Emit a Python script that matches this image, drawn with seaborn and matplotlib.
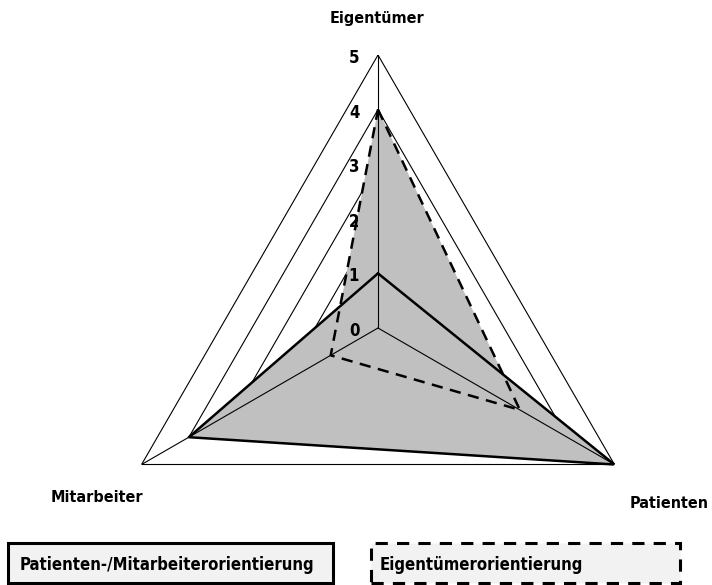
import numpy as np
import matplotlib
matplotlib.use("Agg")
import matplotlib.pyplot as plt
import matplotlib.transforms as mtransforms
from matplotlib.patches import Rectangle
import seaborn as sns

# Radar chart: orientation of the organisation
categories = ["Eigentümer", "Patienten", "Mitarbeiter"]
patienten_mitarbeiter = [1, 5, 4]
eigentuemer = [4, 3, 1]
series_names = ["Patienten-/Mitarbeiterorientierung", "Eigentümerorientierung"]
ticks = [0, 1, 2, 3, 4, 5]

sns.set_style("white")
plt.rcParams["font.family"] = ["DejaVu Sans"]
plt.rcParams["font.stretch"] = "condensed"
plt.rcParams["text.color"] = "black"

W, H = 712, 585
fig = plt.figure(figsize=(W / 100, H / 100), dpi=100)

# polar axes placed so that center is at (378, 328) px and radius 273 px
cx, cy, rad = 378, 328, 273
ax = fig.add_axes([(cx - rad) / W, (H - cy - rad) / H, 2 * rad / W, 2 * rad / H],
                  projection="polar")
ax.set_theta_zero_location("N")
ax.set_theta_direction(-1)
ax.set_ylim(0, ticks[-1])
ax.grid(False)
ax.spines["polar"].set_visible(False)
ax.set_xticks([])
ax.set_yticks([])
ax.patch.set_alpha(0)

angles = np.arange(len(categories)) * 2 * np.pi / len(categories)
closed = np.append(angles, angles[0])


def close(v):
    return list(v) + [v[0]]


# triangular grid
for lvl in ticks[1:]:
    ax.plot(closed, [lvl] * len(closed), color="black", lw=0.8, zorder=1)

# gray areas
ax.fill(closed, close(patienten_mitarbeiter), color="#c0c0c0", lw=0, zorder=2)
ax.fill(closed, close(eigentuemer), color="#c0c0c0", lw=0, zorder=2)

# spokes
for a in angles:
    ax.plot([a, a], [0, ticks[-1]], color="black", lw=0.8, zorder=3)

sns.lineplot(x=closed, y=close(patienten_mitarbeiter), ax=ax, sort=False,
             estimator=None, color="black", lw=1.8, zorder=4)
sns.lineplot(x=closed, y=close(eigentuemer), ax=ax, sort=False,
             estimator=None, color="black", lw=1.8, linestyle=(0, (4.5, 3)), zorder=4)
ax.set_xlabel("")
ax.set_ylabel("")

# value labels along top spoke
off = mtransforms.offset_copy(ax.transData, fig=fig, x=-24, y=-3, units="dots")
for t in ticks:
    ax.text(0, t, str(t), transform=off, ha="center", va="center",
            fontsize=12, fontweight="bold", zorder=5)

# category labels
label_pos = [(377, 18), (669, 504), (97, 497)]
for name, (px, py) in zip(categories, label_pos):
    fig.text(px / W, 1 - py / H, name, ha="center", va="center",
             fontsize=11.5, fontweight="bold")

# legend boxes
fig.add_artist(Rectangle((8 / W, 1 - 583 / H), 325 / W, 40 / H, transform=fig.transFigure,
                         fc="#f2f2f2", ec="black", lw=2.2))
fig.add_artist(Rectangle((371 / W, 1 - 583 / H), 309 / W, 40 / H, transform=fig.transFigure,
                         fc="#f2f2f2", ec="black", lw=2.2, linestyle=(0, (4, 3))))
fig.text(20 / W, 1 - 565 / H, series_names[0], ha="left", va="center",
         fontsize=12, fontweight="bold")
fig.text(380 / W, 1 - 565 / H, series_names[1], ha="left", va="center",
         fontsize=12, fontweight="bold")

fig.savefig("out.png", dpi=100)
